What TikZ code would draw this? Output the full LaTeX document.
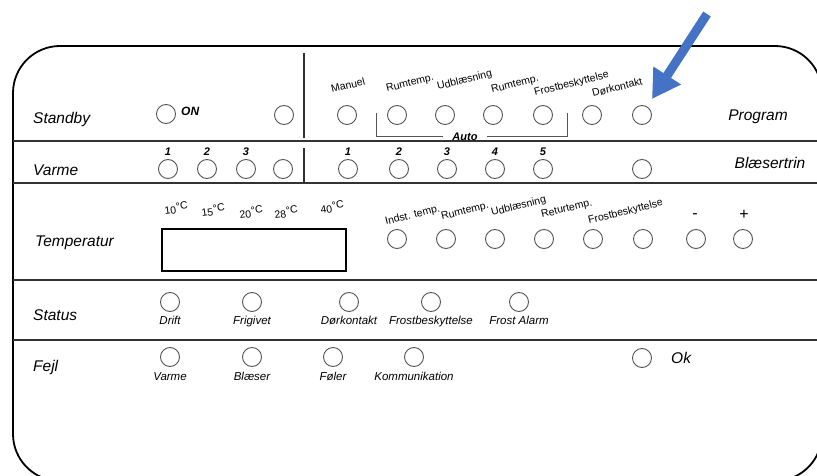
\documentclass[tikz,border=0pt]{standalone}
\usepackage{fontspec}
\setmainfont{Liberation Sans}
\usetikzlibrary{
    arrows.meta,
    positioning
}
\definecolor{ledgray}{RGB}{85,85,85}
\definecolor{linegray}{RGB}{50,50,50}
\definecolor{arrowblue}{RGB}{68,114,196}
\tikzset{
    led/.style={circle, draw=ledgray, line width=0.9pt, minimum size=19pt, inner sep=0pt},
    rowlabel/.style={font=\fontsize{15.5}{18}\selectfont\itshape, inner sep=0pt},
    ledtext/.style={font=\fontsize{10.5}{12}\selectfont, inner sep=0pt},
    slanted/.style={ledtext, rotate=14, anchor=base west},
    numtext/.style={font=\fontsize{11}{13}\selectfont\bfseries\itshape, inner sep=0pt},
    undertext/.style={font=\fontsize{11.5}{13}\selectfont\itshape, inner sep=0pt},
    separator/.style={draw=linegray, line width=1.3pt},
    bracket/.style={draw=ledgray, line width=1pt}
}
\newcommand{\degC}[1]{#1\raisebox{3pt}{°C}}

\begin{document}
\begin{tikzpicture}[x=1pt, y=-1pt]
    \useasboundingbox (0,0) rectangle (817,476);
    % panel outline and rows
    \draw[line width=1.8pt, rounded corners=47pt] (13,46) rectangle (822,481);
    \draw[separator] (13,141) -- (822,141);
    \draw[separator] (13,183) -- (822,183);
    \draw[separator] (13,280) -- (822,280);
    \draw[separator] (13,340) -- (822,340);
    \draw[separator] (304,53) -- (304,138);
    \draw[separator] (304,148) -- (304,182);

    % row names
    \node[rowlabel, anchor=west] (standbytxt) at (33,119) {Standby};
    \node[rowlabel, anchor=west] (varmetxt) at (33,170) {Varme};
    \node[rowlabel, anchor=west] (temptxt) at (35,243) {Temperatur};
    \node[rowlabel, anchor=west] (statustxt) at (33,315) {Status};
    \node[rowlabel, anchor=west] (fejltxt) at (33,367) {Fejl};
    \node[rowlabel] (programtxt) at (758,117) {Program};
    \node[rowlabel] (blaesertxt) at (770,163) {Blæsertrin};

    % standby / program
    \node[led] (on) at (166,114) {};
    \node[numtext, font=\fontsize{12}{14}\selectfont\bfseries\itshape, anchor=west] (ontxt) at (181,111) {ON};
    \node[led] (standby) at (284,115) {};
    \node[led] (manuel) at (347,115) {};
    \node[led] (rum1) at (397,115) {};
    \node[led] (udbl) at (445,115) {};
    \node[led] (rum2) at (493,115) {};
    \node[led] (frost) at (543,115) {};
    \node[led] (doer) at (592,115) {};
    \node[led] (doer2) at (642,115) {};
    \node[slanted] (manueltxt) at (332,93) {Manuel};
    \node[slanted] (rum1txt) at (387,92) {Rumtemp.};
    \node[slanted] (udbltxt) at (438,90) {Udblæsning};
    \node[slanted] (rum2txt) at (492,93) {Rumtemp.};
    \node[slanted] (frosttxt) at (535,96) {Frostbeskyttelse};
    \node[slanted] (doertxt) at (593,97) {Dørkontakt};
    \node[numtext, inner xsep=9pt] (auto) at (465,137) {Auto};
    \coordinate (autoL) at (376,113);
    \coordinate (autoR) at (567,113);
    \draw[bracket] (autoL) |- (auto.west);
    \draw[bracket] (autoR) |- (auto.east);

    % varme / blaesertrin
    \node[led] (v1) at (168,169) {};
    \node[led] (v2) at (207,169) {};
    \node[led] (v3) at (246,169) {};
    \node[led] (v4) at (283,169) {};
    \node[led] (b1) at (348,169) {};
    \node[led] (b2) at (399,169) {};
    \node[led] (b3) at (447,169) {};
    \node[led] (b4) at (495,169) {};
    \node[led] (b5) at (543,169) {};
    \node[led] (b6) at (642,169) {};
    \node[numtext, above=3pt of v1] (v1txt) {1};
    \node[numtext, above=3pt of v2] (v2txt) {2};
    \node[numtext, above=3pt of v3] (v3txt) {3};
    \node[numtext, above=3pt of b1] (b1txt) {1};
    \node[numtext, above=3pt of b2] (b2txt) {2};
    \node[numtext, above=3pt of b3] (b3txt) {3};
    \node[numtext, above=3pt of b4] (b4txt) {4};
    \node[numtext, above=3pt of b5] (b5txt) {5};

    % temperatur
    \node[draw, line width=1.3pt, minimum width=184pt, minimum height=42pt] (display) at (254,250) {};
    \node[ledtext, rotate=8, anchor=base west] (t10) at (165,215) {\degC{10}};
    \node[ledtext, rotate=8, anchor=base west] (t15) at (202,217) {\degC{15}};
    \node[ledtext, rotate=8, anchor=base west] (t20) at (240,219) {\degC{20}};
    \node[ledtext, rotate=8, anchor=base west] (t28) at (275,219) {\degC{28}};
    \node[ledtext, rotate=8, anchor=base west] (t40) at (321,214) {\degC{40}};
    \node[led] (indst) at (397,239) {};
    \node[led] (rum3) at (446,239) {};
    \node[led] (udbl2) at (495,239) {};
    \node[led] (retur) at (544,239) {};
    \node[led] (frost2) at (593,239) {};
    \node[led] (extra) at (643,239) {};
    \node[led] (minus) at (696,239) {};
    \node[led] (plus) at (743,239) {};
    \node[slanted] (indsttxt) at (386,225) {Indst. temp.};
    \node[slanted] (rum3txt) at (442,220) {Rumtemp.};
    \node[slanted] (udbl2txt) at (492,216) {Udblæsning};
    \node[slanted] (returtxt) at (542,218) {Returtemp.};
    \node[slanted] (frost2txt) at (589,224) {Frostbeskyttelse};
    \node[font=\fontsize{16}{18}\selectfont, inner sep=0pt] (minustxt) at (695,216) {-};
    \node[font=\fontsize{16}{18}\selectfont, inner sep=0pt] (plustxt) at (744,215) {+};

    % status
    \node[led] (drift) at (170,302) {};
    \node[led] (frigivet) at (252,302) {};
    \node[led] (doerk) at (349,302) {};
    \node[led] (frostb) at (431,302) {};
    \node[led] (alarm) at (519,302) {};
    \node[undertext, below=4pt of drift] (drifttxt) {Drift};
    \node[undertext, below=4pt of frigivet] (frigivettxt) {Frigivet};
    \node[undertext, below=4pt of doerk] (doerktxt) {Dørkontakt};
    \node[undertext, below=4pt of frostb] (frostbtxt) {Frostbeskyttelse};
    \node[undertext, below=4pt of alarm] (alarmtxt) {Frost Alarm};

    % fejl
    \node[led] (fvarme) at (170,357) {};
    \node[led] (fblaeser) at (252,357) {};
    \node[led] (foeler) at (333,357) {};
    \node[led] (komm) at (414,357) {};
    \node[led] (ok) at (642,358) {};
    \node[undertext, below=5pt of fvarme] (fvarmetxt) {Varme};
    \node[undertext, below=5pt of fblaeser] (fblaesertxt) {Blæser};
    \node[undertext, below=5pt of foeler] (foelertxt) {Føler};
    \node[undertext, below=5pt of komm] (kommtxt) {Kommunikation};
    \node[rowlabel, anchor=west] (oktxt) at (671,358) {Ok};

    % pointer
    \coordinate (tail) at (707,14);
    \coordinate (tip) at (652,99);
    \draw[arrowblue, line width=9pt, -{Triangle[length=28pt, width=31pt]}] (tail) -- (tip);
\end{tikzpicture}
\end{document}
